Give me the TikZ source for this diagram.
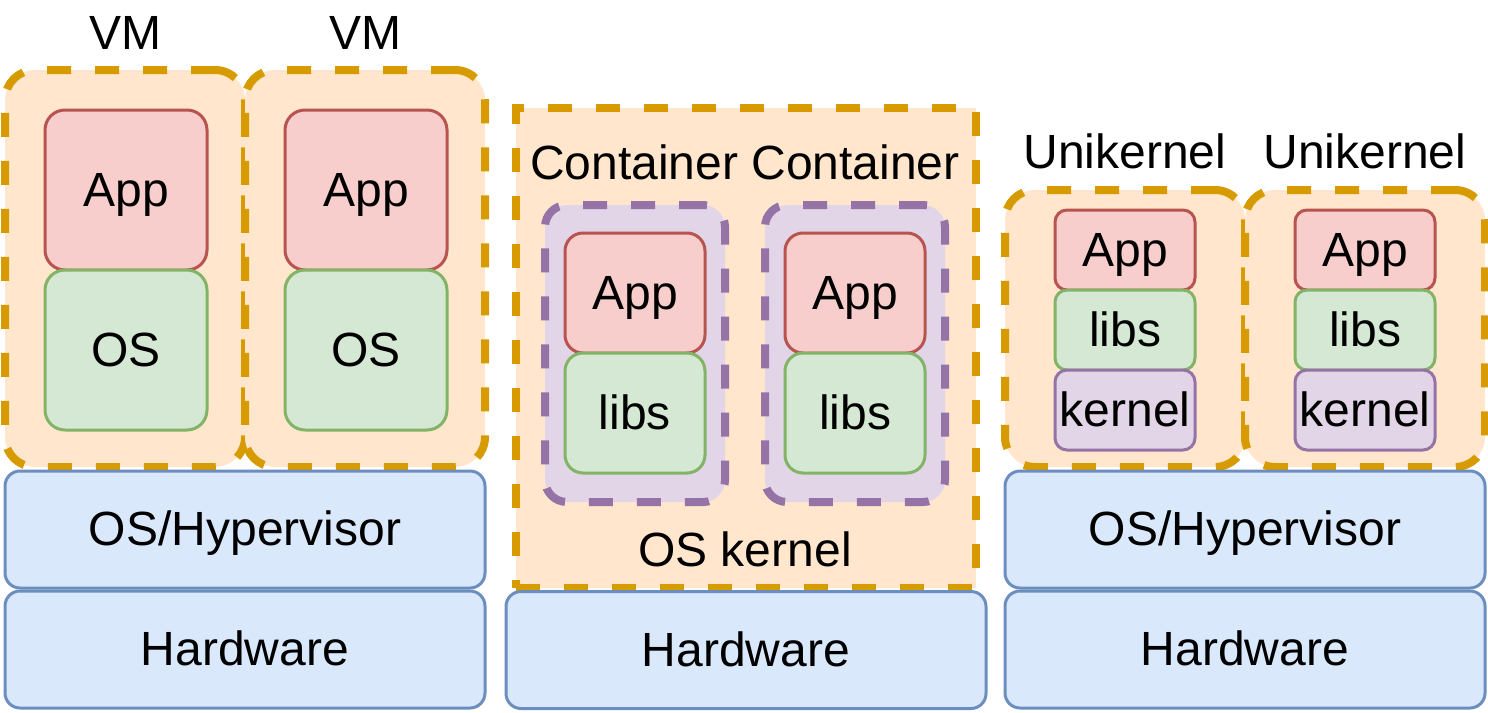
\documentclass[tikz,border=0pt]{standalone}
\usepackage{fontspec}
\setmainfont{Liberation Sans}
\definecolor{orfill}{HTML}{FFE6CC}
\definecolor{ordraw}{HTML}{D79B00}
\definecolor{rdfill}{HTML}{F8CECC}
\definecolor{rddraw}{HTML}{B85450}
\definecolor{grfill}{HTML}{D5E8D4}
\definecolor{grdraw}{HTML}{82B366}
\definecolor{pufill}{HTML}{E1D5E7}
\definecolor{pudraw}{HTML}{9673A6}
\definecolor{blfill}{HTML}{DAE8FC}
\definecolor{bldraw}{HTML}{6C8EBF}
\tikzset{
  base/.style={rectangle, inner sep=0pt, outer sep=0pt, font=\fontsize{24}{28}\selectfont, text=black, text height=16pt, text depth=0pt},
  solidbox/.style={base, line width=1.5pt},
  dashbox/.style={base, line width=4pt, dash pattern=on 12pt off 12pt},
  vmbox/.style={dashbox, fill=orfill, draw=ordraw, rounded corners=15pt},
  ctbox/.style={dashbox, fill=pufill, draw=pudraw, rounded corners=11pt},
  kbox/.style={dashbox, fill=orfill, draw=ordraw},
  appbox/.style={solidbox, fill=rdfill, draw=rddraw},
  libbox/.style={solidbox, fill=grfill, draw=grdraw},
  kernbox/.style={solidbox, fill=pufill, draw=pudraw},
  layer/.style={solidbox, fill=blfill, draw=bldraw, rounded corners=7.5pt, minimum width=240pt, minimum height=58.5pt},
  lbl/.style={base}
}
\begin{document}
\begin{tikzpicture}[x=0.5pt,y=-0.5pt]
\useasboundingbox (0,0) rectangle (1488,712);
% ---------- VMs ----------
\node[lbl] (vmlbl1) at (125,33) {VM};
\node[lbl] (vmlbl2) at (365,33) {VM};
\node[vmbox, minimum width=120pt, minimum height=198.5pt] (vm1) at (125,268.5) {};
\node[vmbox, minimum width=120pt, minimum height=198.5pt] (vm2) at (365,268.5) {};
\node[appbox, rounded corners=10pt, minimum width=81pt, minimum height=80pt] (app1) at (126,190) {App};
\node[libbox, rounded corners=10pt, minimum width=81pt, minimum height=80pt] (os1) at (126,350) {OS};
\node[appbox, rounded corners=10pt, minimum width=81pt, minimum height=80pt] (app2) at (366,190) {App};
\node[libbox, rounded corners=10pt, minimum width=81pt, minimum height=80pt] (os2) at (366,350) {OS};
\node[layer] (hyp1) at (245,529.5) {OS/Hypervisor};
\node[layer] (hw1) at (245,649.5) {Hardware};
% ---------- Containers ----------
\node[kbox, minimum width=230pt, minimum height=240pt] (kern) at (746,348) {};
\node[lbl] (ctlbl) at (745,163) {Container Container};
\node[lbl] (kernlbl) at (745,550) {OS kernel};
\node[ctbox, minimum width=90pt, minimum height=148.5pt] (ct1) at (635,353.5) {};
\node[ctbox, minimum width=90pt, minimum height=148.5pt] (ct2) at (855,353.5) {};
\node[appbox, rounded corners=9pt, minimum width=70pt, minimum height=60pt] (capp1) at (635,293) {App};
\node[libbox, rounded corners=9pt, minimum width=70pt, minimum height=60pt] (clib1) at (635,413) {libs};
\node[appbox, rounded corners=9pt, minimum width=70pt, minimum height=60pt] (capp2) at (855,293) {App};
\node[libbox, rounded corners=9pt, minimum width=70pt, minimum height=60pt] (clib2) at (855,413) {libs};
\node[layer] (hw2) at (746,650) {Hardware};
% ---------- Unikernels ----------
\node[lbl] (uklbl1) at (1125,152) {Unikernel};
\node[lbl] (uklbl2) at (1365,152) {Unikernel};
\node[vmbox, minimum width=120pt, minimum height=138.5pt] (uk1) at (1125,328.5) {};
\node[vmbox, minimum width=120pt, minimum height=138.5pt] (uk2) at (1365,328.5) {};
\node[appbox, rounded corners=6pt, minimum width=70pt, minimum height=40pt] (uapp1) at (1125,250) {App};
\node[libbox, rounded corners=6pt, minimum width=70pt, minimum height=40pt] (ulib1) at (1125,330) {libs};
\node[kernbox, rounded corners=6pt, minimum width=70pt, minimum height=40pt] (ukern1) at (1125,410) {kernel};
\node[appbox, rounded corners=6pt, minimum width=70pt, minimum height=40pt] (uapp2) at (1365,250) {App};
\node[libbox, rounded corners=6pt, minimum width=70pt, minimum height=40pt] (ulib2) at (1365,330) {libs};
\node[kernbox, rounded corners=6pt, minimum width=70pt, minimum height=40pt] (ukern2) at (1365,410) {kernel};
\node[layer] (hyp3) at (1245,529.5) {OS/Hypervisor};
\node[layer] (hw3) at (1245,649.5) {Hardware};
\end{tikzpicture}
\end{document}
